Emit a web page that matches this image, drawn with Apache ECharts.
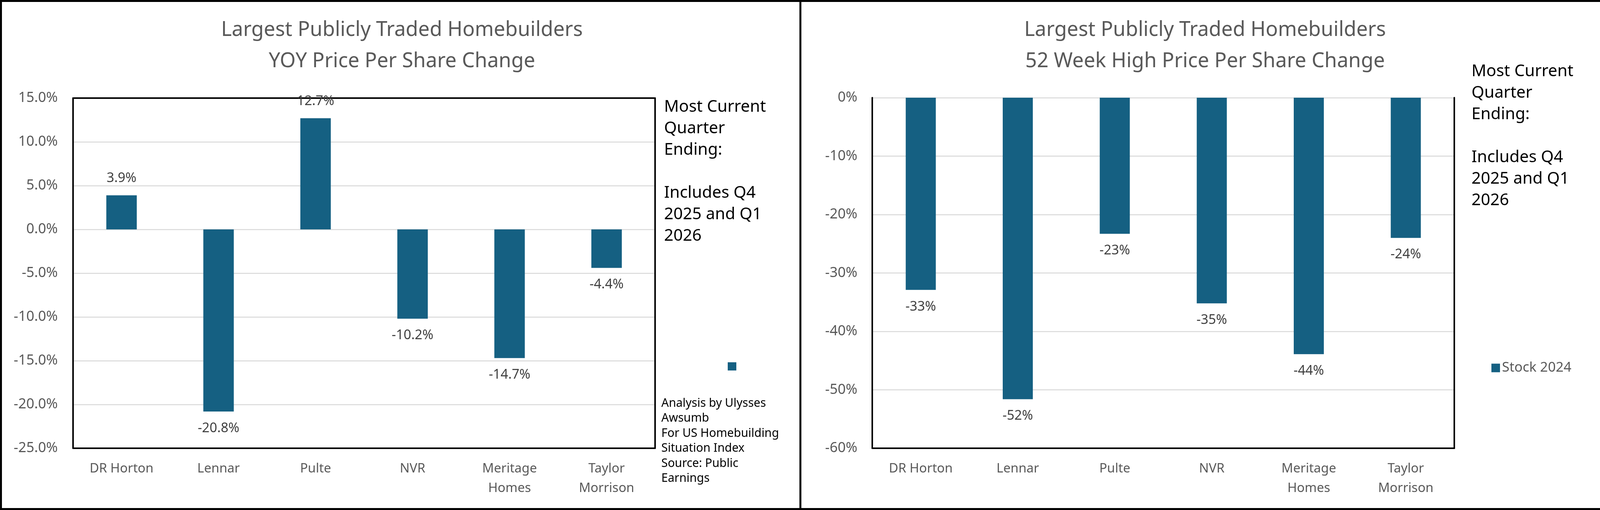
<!DOCTYPE html>
<html>
<head>
<meta charset="utf-8">
<script src="https://cdn.jsdelivr.net/npm/echarts@6/dist/echarts.min.js"></script>
<style>
html,body{margin:0;padding:0;background:#fff;}
#c{width:4111px;height:1305px;}
</style>
</head>
<body>
<div id="c"></div>
<script>
// ---- data ----
const categories = ['DR Horton', 'Lennar', 'Pulte', 'NVR', 'Meritage\nHomes', 'Taylor\nMorrison'];
const yoyChange = [3.9, -20.8, 12.7, -10.2, -14.7, -4.4];
const highChange = [-32.9, -51.6, -23.3, -35.2, -43.9, -24.0];
const leftTitle = 'Largest Publicly Traded Homebuilders\nYOY Price Per Share Change';
const rightTitle = 'Largest Publicly Traded Homebuilders\n52 Week High Price Per Share Change';
const noteText = 'Most Current\nQuarter\nEnding:\n\nIncludes Q4\n2025 and Q1\n2026';
const creditText = 'Analysis by Ulysses\nAwsumb\nFor US Homebuilding\nSituation Index\nSource: Public\nEarnings';
const rightSeriesName = 'Stock 2024';

// ---- style ----
const FONT = 'Noto Sans';
const BAR = '#156082';
const GRAY = '#595959';
const GRID_LINE = '#d9d9d9';

const chart = echarts.init(document.getElementById('c'), null, {renderer: 'canvas'});

function barData(vals) {
  return vals.map(v => ({value: v, label: {position: v >= 0 ? 'top' : 'bottom'}}));
}

const axisLabelX = {color: GRAY, fontFamily: FONT, fontSize: 33, lineHeight: 50, margin: 28, interval: 0};
const blackLine = {show: true, onZero: false, lineStyle: {color: '#000', width: 4}};

const option = {
  animation: false,
  backgroundColor: '#fff',
  title: [
    {text: leftTitle, left: 1024, top: 32, textAlign: 'center',
     textStyle: {color: GRAY, fontFamily: FONT, fontSize: 52, fontWeight: 'normal', lineHeight: 80}},
    {text: rightTitle, left: 3080, top: 32, textAlign: 'center',
     textStyle: {color: GRAY, fontFamily: FONT, fontSize: 52, fontWeight: 'normal', lineHeight: 80}}
  ],
  legend: [
    {data: ['YOY'], left: 1863, top: 927, padding: 0, icon: 'rect', itemWidth: 22, itemHeight: 21,
     formatter: () => '', textStyle: {fontSize: 30}, selectedMode: false},
    {data: [rightSeriesName], left: 3818, top: 924, padding: 0, icon: 'rect', itemWidth: 22, itemHeight: 22,
     itemGap: 10, textStyle: {color: GRAY, fontFamily: FONT, fontSize: 35}, selectedMode: false}
  ],
  grid: [
    {left: 187, top: 251, width: 1490, height: 896},
    {left: 2233, top: 250, width: 1490, height: 897}
  ],
  xAxis: [
    {type: 'category', gridIndex: 0, data: categories, position: 'bottom',
     axisLine: blackLine, axisTick: {show: false}, axisLabel: axisLabelX},
    {type: 'category', gridIndex: 0, data: categories, position: 'top',
     axisLine: blackLine, axisTick: {show: false}, axisLabel: {show: false}},
    {type: 'category', gridIndex: 1, data: categories, position: 'bottom',
     axisLine: blackLine, axisTick: {show: false}, axisLabel: axisLabelX}
  ],
  yAxis: [
    {type: 'value', gridIndex: 0, min: -25, max: 15, interval: 5, position: 'left',
     axisLine: blackLine, axisTick: {show: false},
     splitLine: {lineStyle: {color: GRID_LINE, width: 2.5}},
     axisLabel: {color: GRAY, fontFamily: FONT, fontSize: 36, margin: 39,
                 formatter: v => v.toFixed(1) + '%'}},
    {type: 'value', gridIndex: 0, min: -25, max: 15, interval: 5, position: 'right',
     axisLine: blackLine, axisTick: {show: false}, splitLine: {show: false}, axisLabel: {show: false}},
    {type: 'value', gridIndex: 1, min: -60, max: 0, interval: 10, position: 'left',
     axisLine: blackLine, axisTick: {show: false},
     splitLine: {lineStyle: {color: GRID_LINE, width: 2.5}},
     axisLabel: {color: GRAY, fontFamily: FONT, fontSize: 36, margin: 38,
                 formatter: v => v.toFixed(0) + '%'}},
    {type: 'value', gridIndex: 1, min: -60, max: 0, interval: 10, position: 'right',
     axisLine: blackLine, axisTick: {show: false}, splitLine: {show: false}, axisLabel: {show: false}}
  ],
  series: [
    {name: 'YOY', type: 'bar', xAxisIndex: 0, yAxisIndex: 0, data: barData(yoyChange),
     barWidth: 78, itemStyle: {color: BAR},
     label: {show: true, distance: 26, color: '#404040', fontFamily: FONT, fontSize: 34,
             formatter: p => p.value.toFixed(1) + '%'}},
    {name: rightSeriesName, type: 'bar', xAxisIndex: 2, yAxisIndex: 2, data: barData(highChange),
     barWidth: 77, itemStyle: {color: BAR},
     label: {show: true, distance: 26, color: '#404040', fontFamily: FONT, fontSize: 34,
             formatter: p => Math.round(p.value) + '%'}}
  ],
  graphic: [
    {type: 'rect', shape: {x: 2.5, y: 2.5, width: 4106, height: 1300}, silent: true,
     style: {fill: null, stroke: '#000', lineWidth: 5}, z: 100},
    {type: 'line', shape: {x1: 2049, y1: 0, x2: 2049, y2: 1305}, silent: true,
     style: {stroke: '#000', lineWidth: 5}, z: 100},
    {type: 'text', left: 1700, top: 247, silent: true,
     style: {text: noteText, fill: '#000', font: '42px "Noto Sans"', lineHeight: 55}},
    {type: 'text', left: 1693, top: 1013, silent: true,
     style: {text: creditText, fill: '#000', font: '30px "Noto Sans"', lineHeight: 38.5}},
    {type: 'text', left: 3767, top: 156, silent: true,
     style: {text: noteText, fill: '#000', font: '42px "Noto Sans"', lineHeight: 55}}
  ]
};
chart.setOption(option);
</script>
</body>
</html>
